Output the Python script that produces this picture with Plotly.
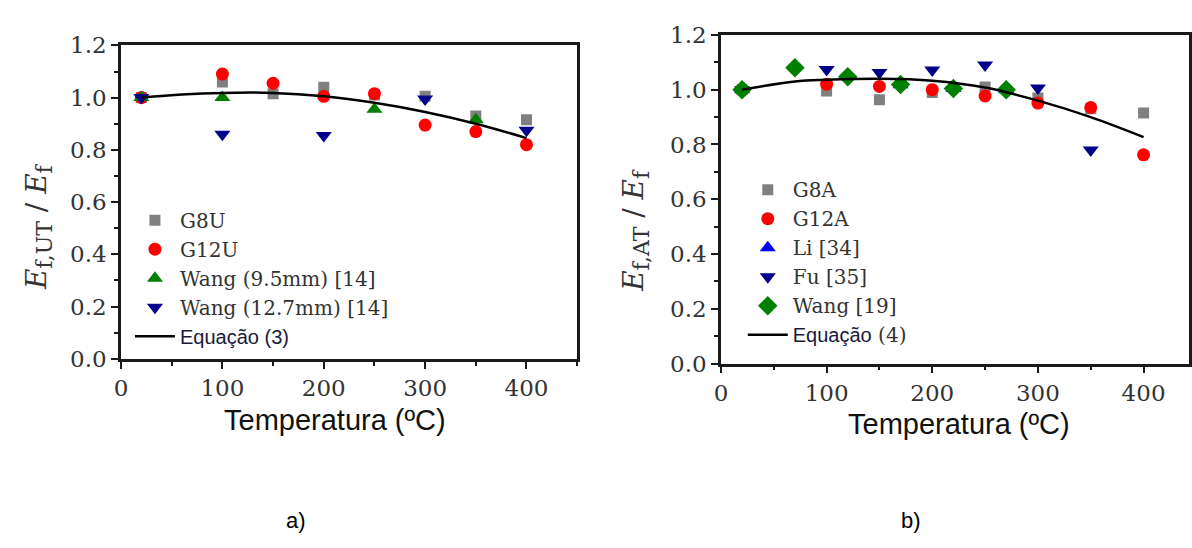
import plotly.graph_objects as go

# ---------------- panel a) : untreated (UT) ----------------
temp_a = [20, 100, 150, 200, 250, 300, 350, 400]
g8u = [1.00, 1.06, 1.015, 1.04, 1.01, 1.005, 0.93, 0.915]
g12u = [1.00, 1.09, 1.055, 1.005, 1.015, 0.895, 0.87, 0.82]

temp_wang95 = [20, 100, 250, 350]
wang95 = [1.00, 1.00, 0.955, 0.915]

temp_wang127 = [20, 100, 200, 300, 400]
wang127 = [1.00, 0.86, 0.855, 0.995, 0.875]

eq3_t = [20, 60, 100, 150, 200, 250, 300, 350, 400]
eq3_v = [1.000, 1.012, 1.018, 1.018, 1.005, 0.980, 0.945, 0.900, 0.845]

# ---------------- panel b) : after treatment (AT) ----------------
temp_b = [20, 100, 150, 200, 250, 300, 350, 400]
g8a = [1.00, 0.995, 0.963, 0.99, 1.01, 0.97, 0.93, 0.915]
g12a = [1.00, 1.02, 1.012, 1.0, 0.977, 0.951, 0.935, 0.762]

temp_li = [20, 170, 220, 270]
li34 = [1.00, 1.018, 1.004, 1.0]

temp_fu = [20, 100, 150, 200, 250, 300, 350]
fu35 = [1.00, 1.074, 1.063, 1.072, 1.09, 1.006, 0.78]

temp_wang19 = [20, 70, 120, 170, 220, 270]
wang19 = [1.00, 1.08, 1.047, 1.019, 1.004, 1.0]

eq4_t = [20, 70, 100, 150, 200, 250, 300, 350, 400]
eq4_v = [1.000, 1.030, 1.036, 1.040, 1.033, 1.008, 0.960, 0.900, 0.827]

x_ticks = [0, 100, 200, 300, 400]
y_ticks = [0.0, 0.2, 0.4, 0.6, 0.8, 1.0, 1.2]

GRAY, RED, GREEN, NAVY, BLUE = "#808080", "#ff0000", "#008000", "#00008b", "#0000ff"
SERIF = "DejaVu Serif"
SANS = "Liberation Sans"

fig = go.Figure()


def pts(x, y, name, color, symbol, size, xa, ya, legend):
    fig.add_trace(go.Scatter(
        x=x, y=y, mode="markers", name=name,
        marker=dict(color=color, symbol=symbol, size=size, line=dict(width=0)),
        xaxis=xa, yaxis=ya, legend=legend))


# panel a)
pts(temp_a, g8u, "G8U", GRAY, "square", 11, "x", "y", "legend")
pts(temp_a, g12u, "G12U", RED, "circle", 13, "x", "y", "legend")
pts(temp_wang95, wang95, "Wang (9.5mm) [14]", GREEN, "triangle-up", 14, "x", "y", "legend")
pts(temp_wang127, wang127, "Wang (12.7mm) [14]", NAVY, "triangle-down", 14, "x", "y", "legend")
fig.add_trace(go.Scatter(
    x=eq3_t, y=eq3_v, mode="lines",
    name=f"<span style='font-family:{SANS};font-size:20px;color:#1a1a3a'>Equação (3)</span>",
    line=dict(color="black", width=2.5, shape="spline"), xaxis="x", yaxis="y", legend="legend"))

# panel b)
pts(temp_b, g8a, "G8A", GRAY, "square", 11, "x2", "y2", "legend2")
pts(temp_b, g12a, "G12A", RED, "circle", 13, "x2", "y2", "legend2")
pts(temp_li, li34, "Li [34]", BLUE, "triangle-up", 14, "x2", "y2", "legend2")
pts(temp_fu, fu35, "Fu [35]", NAVY, "triangle-down", 14, "x2", "y2", "legend2")
pts(temp_wang19, wang19, "Wang [19]", GREEN, "diamond", 15, "x2", "y2", "legend2")
fig.add_trace(go.Scatter(
    x=eq4_t, y=eq4_v, mode="lines",
    name=f"<span style='font-family:{SANS};font-size:20px;color:#1a1a3a'>Equação</span> (4)",
    line=dict(color="black", width=2.5, shape="spline"), xaxis="x2", yaxis="y2", legend="legend2"))

W, H = 1192, 548


def xdom(l, r):
    return [l / W, r / W]


def ydom(top, bottom):
    return [(H - bottom) / H, (H - top) / H]


axis_common = dict(
    showline=True, linecolor="#1a1a1a", linewidth=2.5, mirror=True,
    ticks="outside", ticklen=7, tickwidth=2, tickcolor="#1a1a1a",
    showgrid=False, zeroline=False,
    tickfont=dict(family=SERIF, size=23, color="#333333"),
)
minor_x = dict(ticks="outside", ticklen=4, tickwidth=2, dtick=50, tick0=0, tickcolor="#1a1a1a")
minor_y = dict(ticks="outside", ticklen=4, tickwidth=2, dtick=0.1, tick0=0, tickcolor="#1a1a1a")

fig.update_layout(
    width=W, height=H, margin=dict(l=0, r=0, t=0, b=0),
    paper_bgcolor="white", plot_bgcolor="white",
    xaxis=dict(domain=xdom(115, 575), range=[0, 450], tickvals=x_ticks, minor=minor_x,
               anchor="y", **axis_common),
    yaxis=dict(domain=ydom(34, 363), range=[0, 1.2], tickvals=y_ticks, tickformat=".1f", minor=minor_y,
               anchor="x", **axis_common),
    xaxis2=dict(domain=xdom(720, 1192), range=[0, 443], tickvals=x_ticks, minor=minor_x,
                anchor="y2", **axis_common),
    yaxis2=dict(domain=ydom(23, 368), range=[0, 1.2], tickvals=y_ticks, tickformat=".1f", minor=minor_y,
                anchor="x2", **axis_common),
    legend=dict(x=124 / W, y=(H - 197) / H, xanchor="left", yanchor="top",
                bgcolor="rgba(0,0,0,0)", tracegroupgap=0, itemwidth=40,
                font=dict(family=SERIF, size=20, color="#333333")),
    legend2=dict(x=742 / W, y=(H - 165) / H, xanchor="left", yanchor="top",
                 bgcolor="rgba(0,0,0,0)", tracegroupgap=0, itemwidth=40,
                 font=dict(family=SERIF, size=20, color="#333333")),
    showlegend=True,
)

SUB = "<sub><span style='font-size:22px'>{}</span></sub>"
annotations = [
    dict(text="<i>E</i>" + SUB.format("f,UT") + " / <i>E</i>" + SUB.format("f"),
         x=32 / W, y=(H - 224) / H,
         textangle=-90, font=dict(family=SERIF, size=28, color="#333333")),
    dict(text="<i>E</i>" + SUB.format("f,AT") + " / <i>E</i>" + SUB.format("f"),
         x=634 / W, y=(H - 228) / H,
         textangle=-90, font=dict(family=SERIF, size=28, color="#333333")),
    dict(text="Temperatura (ºC)", x=331 / W, y=(H - 427) / H,
         font=dict(family=SANS, size=29, color="#111111")),
    dict(text="Temperatura (ºC)", x=960 / W, y=(H - 431) / H,
         font=dict(family=SANS, size=29, color="#111111")),
    dict(text="a)", x=291 / W, y=(H - 533) / H, font=dict(family=SANS, size=22, color="black")),
    dict(text="b)", x=912 / W, y=(H - 533) / H, font=dict(family=SANS, size=22, color="black")),
]
for a in annotations:
    a.update(xref="paper", yref="paper", showarrow=False, xanchor="center", yanchor="middle")
fig.update_layout(annotations=annotations)

fig.write_html("out.html")
